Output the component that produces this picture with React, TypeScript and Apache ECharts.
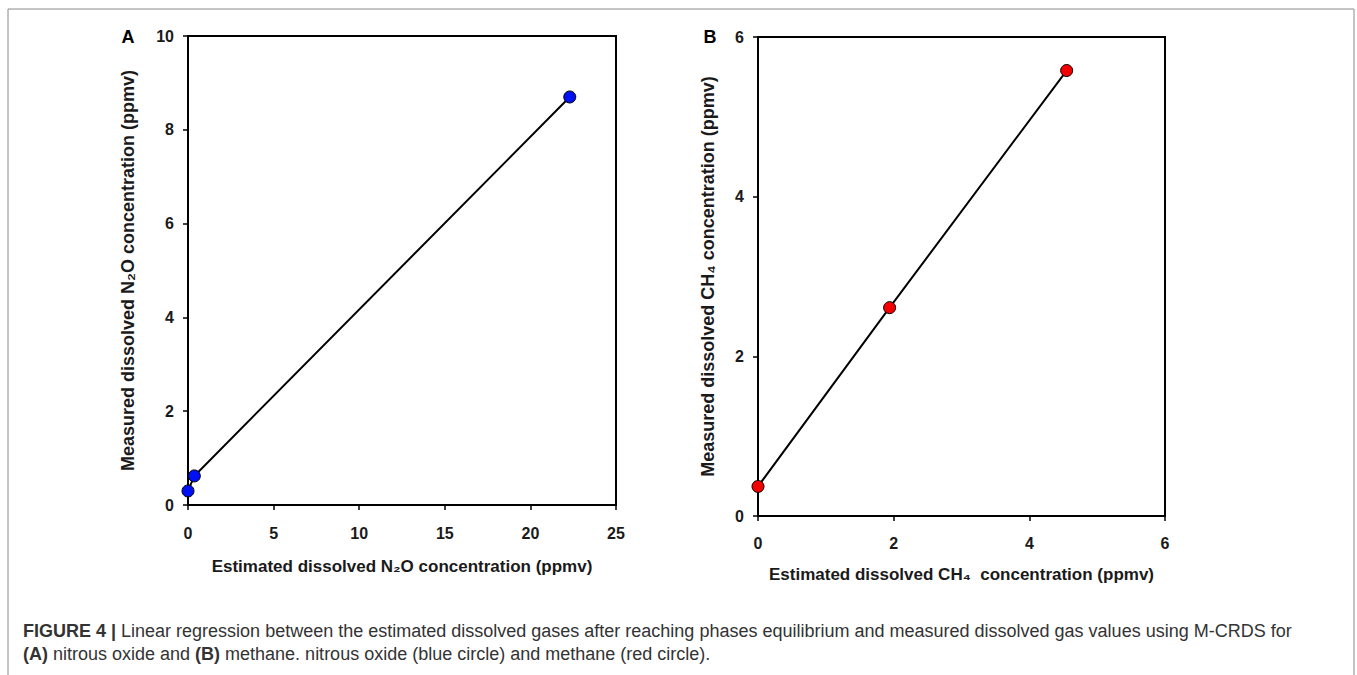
import React, { useEffect, useRef } from "react";
import * as echarts from "echarts";

const n2oEstimated = [0, 0.37, 22.3];
const n2oMeasured = [0.3, 0.62, 8.7];
const ch4Estimated = [0, 1.94, 4.55];
const ch4Measured = [0.37, 2.61, 5.58];

const n2oXTicks = { min: 0, max: 25, interval: 5 };
const n2oYTicks = { min: 0, max: 10, interval: 2 };
const ch4XTicks = { min: 0, max: 6, interval: 2 };
const ch4YTicks = { min: 0, max: 6, interval: 2 };

const captionLine1 =
  "{b|FIGURE 4 |} Linear regression between the estimated dissolved gases after reaching phases equilibrium and measured dissolved gas values using M-CRDS for";
const captionLine2 =
  "{b|(A)} nitrous oxide and {b|(B)} methane. nitrous oxide (blue circle) and methane (red circle).";

const FONT = "'Liberation Sans', Arial, sans-serif";

function pairs(xs: number[], ys: number[]) {
  return xs.map((x, i) => [x, ys[i]]);
}

export default function App() {
  const ref = useRef<HTMLDivElement>(null);
  useEffect(() => {
    if (!ref.current) return;
    const chart = echarts.init(ref.current, undefined, { renderer: "svg" });
    const labelStyle = {
      color: "#1a1a1a",
      fontWeight: "bold" as const,
      fontSize: 16,
      fontFamily: FONT,
    };
    const xNameStyle = {
      color: "#1a1a1a",
      fontWeight: "bold" as const,
      fontSize: 17,
      fontFamily: FONT,
    };
    const yNameStyle = { ...xNameStyle, fontSize: 18 };
    const axisCommon = {
      type: "value" as const,
      splitLine: { show: false },
      axisLine: { onZero: false, lineStyle: { color: "#000", width: 2 } },
      axisTick: { inside: false, length: 5, lineStyle: { color: "#000", width: 1.5 } },
      nameLocation: "middle" as const,
    };
    const seriesCommon = {
      type: "line" as const,
      symbol: "circle",
      symbolSize: 12,
      lineStyle: { color: "#000", width: 2 },
      z: 3,
    };
    chart.setOption({
      animation: false,
      grid: [
        { left: 188, top: 36, width: 428, height: 469, show: true, borderColor: "#000", borderWidth: 2, backgroundColor: "transparent" },
        { left: 758, top: 37, width: 407, height: 479, show: true, borderColor: "#000", borderWidth: 2, backgroundColor: "transparent" },
      ],
      xAxis: [
        {
          ...axisCommon,
          gridIndex: 0,
          ...n2oXTicks,
          name: "Estimated dissolved N₂O concentration (ppmv)",
          nameGap: 53,
          nameTextStyle: xNameStyle,
          axisLabel: { ...labelStyle, margin: 20 },
        },
        {
          ...axisCommon,
          gridIndex: 1,
          ...ch4XTicks,
          name: "Estimated dissolved CH₄  concentration (ppmv)",
          nameGap: 50,
          nameTextStyle: xNameStyle,
          axisLabel: { ...labelStyle, margin: 19 },
        },
      ],
      yAxis: [
        {
          ...axisCommon,
          gridIndex: 0,
          ...n2oYTicks,
          name: "Measured dissolved N₂O concentration (ppmv)",
          nameGap: 51,
          nameTextStyle: yNameStyle,
          axisLabel: { ...labelStyle, margin: 14 },
        },
        {
          ...axisCommon,
          gridIndex: 1,
          ...ch4YTicks,
          name: "Measured dissolved CH₄ concentration (ppmv)",
          nameGap: 41,
          nameTextStyle: yNameStyle,
          axisLabel: { ...labelStyle, margin: 14 },
        },
      ],
      series: [
        {
          ...seriesCommon,
          name: "nitrous oxide",
          xAxisIndex: 0,
          yAxisIndex: 0,
          data: pairs(n2oEstimated, n2oMeasured),
          itemStyle: { color: "#0010f5", borderColor: "#000", borderWidth: 1 },
        },
        {
          ...seriesCommon,
          name: "methane",
          xAxisIndex: 1,
          yAxisIndex: 1,
          data: pairs(ch4Estimated, ch4Measured),
          itemStyle: { color: "#f20000", borderColor: "#000", borderWidth: 1 },
        },
      ],
      graphic: [
        {
          type: "polyline",
          shape: { points: [[8, 675], [8, 9], [1354, 9], [1354, 675]] },
          style: { stroke: "#8a8a8a", lineWidth: 1, fill: "none" },
          silent: true,
        },
        {
          type: "text",
          x: 128,
          y: 37,
          style: { text: "A", font: `bold 18px ${FONT}`, fill: "#000", align: "center", verticalAlign: "middle" },
        },
        {
          type: "text",
          x: 710,
          y: 37,
          style: { text: "B", font: `bold 18px ${FONT}`, fill: "#000", align: "center", verticalAlign: "middle" },
        },
        {
          type: "text",
          x: 23,
          y: 631,
          style: {
            text: captionLine1,
            font: `18px ${FONT}`,
            fill: "#333",
            verticalAlign: "middle",
            rich: { b: { fontWeight: "bold", fontSize: 18, fontFamily: FONT, fill: "#333" } },
          },
        },
        {
          type: "text",
          x: 23,
          y: 654,
          style: {
            text: captionLine2,
            font: `18px ${FONT}`,
            fill: "#333",
            verticalAlign: "middle",
            rich: { b: { fontWeight: "bold", fontSize: 18, fontFamily: FONT, fill: "#333" } },
          },
        },
      ],
    });
    return () => chart.dispose();
  }, []);
  return (
    <div
      ref={ref}
      style={{ position: "fixed", left: 0, top: 0, width: 1357, height: 675, background: "#fff" }}
    />
  );
}
